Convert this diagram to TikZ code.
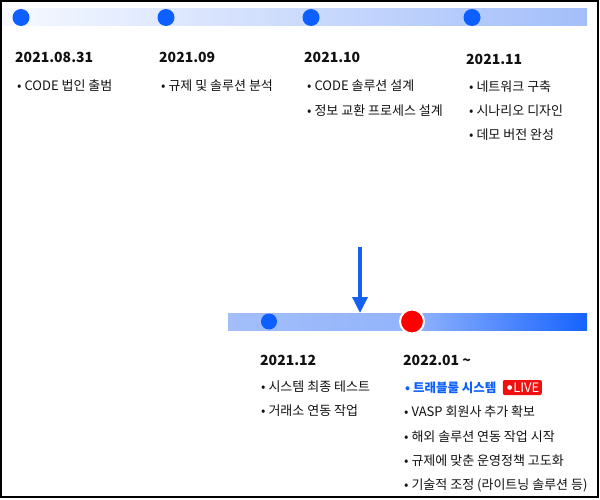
\documentclass[tikz,border=0pt]{standalone}
\usepackage{fontspec}
\setmainfont{Noto Sans CJK KR}
\usepackage{tikz}
\usetikzlibrary{arrows.meta,positioning}
\definecolor{dotblue}{RGB}{13,95,255}
\definecolor{barpale}{RGB}{246,249,255}
\definecolor{barmid}{RGB}{163,190,250}
\definecolor{barlow}{RGB}{146,180,251}
\definecolor{barstrong}{RGB}{23,99,255}
\definecolor{arrowblue}{RGB}{21,96,240}
\definecolor{livered}{RGB}{240,16,16}
\definecolor{inkblack}{RGB}{17,17,17}

\begin{document}
\begin{tikzpicture}[x=1pt,y=-1pt,
	bluedot/.style={circle,fill=dotblue,inner sep=0pt,minimum size=17pt},
	reddot/.style={circle,fill=red,draw=white,line width=2pt,inner sep=0pt,minimum size=24pt},
	datetext/.style={anchor=west,inner sep=0pt,text=inkblack,font=\bfseries\fontsize{14}{14}\selectfont},
	itemtext/.style={anchor=west,inner sep=0pt,text=inkblack,font=\fontsize{13}{13}\selectfont},
	livebadge/.style={fill=livered,rounded corners=2pt,text=white,inner xsep=2.5pt,inner ysep=0pt,minimum height=15pt,font=\fontsize{13}{13}\selectfont}]
	%\draw[help lines] (0,0) grid[step=50] (600,500);
	\useasboundingbox (0,0) rectangle (600,500);
	\draw[line width=2pt] (1,1) rectangle (598,497);
	% upper line
	\shade[left color=barpale,right color=barmid] (2,9) rectangle (587,26);
	\node[bluedot] (p1) at (21,17.5) {};
	\node[bluedot] (p2) at (166,17.5) {};
	\node[bluedot] (p3) at (311,17.5) {};
	\node[bluedot] (p4) at (472,17.5) {};
	\node[datetext] (t1) at (15,57.5) {2021.08.31};
	\node[datetext] (t2) at (159,57.5) {2021.09};
	\node[datetext] (t3) at (304,57.5) {2021.10};
	\node[datetext] (t4) at (466,59) {2021.11};
	\node[itemtext] (a1) at (17,85.5) {• CODE 법인 출범};
	\node[itemtext] (b1) at (161,85.5) {• 규제 및 솔루션 분석};
	\node[itemtext] (c1) at (307,85.5) {• CODE 솔루션 설계};
	\node[itemtext] (c2) at (307,110.5) {• 정보 교환 프로세스 설계};
	\node[itemtext] (d1) at (469,87) {• 네트워크 구축};
	\node[itemtext] (d2) at (469,111) {• 시나리오 디자인};
	\node[itemtext] (d3) at (469,135) {• 데모 버전 완성};
	% lower line
	\shade[left color=barmid,right color=barlow] (228,313) rectangle (412,330);
	\shade[left color=barlow,right color=barstrong] (412,313) rectangle (587,330);
	\node[bluedot,minimum size=16pt] (p5) at (269,321.5) {};
	\node[reddot] (p6) at (412,321.5) {};
	\coordinate (arrtop) at (360,247);
	\coordinate (arrtip) at (360,313);
	\draw[arrowblue,line width=3.5pt,-{Triangle[length=16pt,width=15pt]}] (arrtop) -- (arrtip);
	\node[datetext] (t5) at (260,360) {2021.12};
	\node[datetext] (t6) at (403,360) {2022.01 \textasciitilde};
	\node[itemtext] (e1) at (261,386.5) {• 시스템 최종 테스트};
	\node[itemtext] (e2) at (261,411) {• 거래소 연동 작업};
	\node[itemtext,text=dotblue,font=\bfseries\fontsize{12.5}{12.5}\selectfont] (f1) at (405,387.5) {• 트래블룰 시스템};
	\node[livebadge,right=6pt of f1] (live) {\hspace{8pt}LIVE};
	\fill[white] ([xshift=7pt]live.west) circle (2.4pt);
	\node[itemtext] (f2) at (404,412) {• VASP 회원사 추가 확보};
	\node[itemtext] (f3) at (404,437) {• 해외 솔루션 연동 작업 시작};
	\node[itemtext] (f4) at (404,461) {• 규제에 맞춘 운영정책 고도화};
	\node[itemtext] (f5) at (404,485) {• 기술적 조정 (라이트닝 솔루션 등)};
\end{tikzpicture}
\end{document}
